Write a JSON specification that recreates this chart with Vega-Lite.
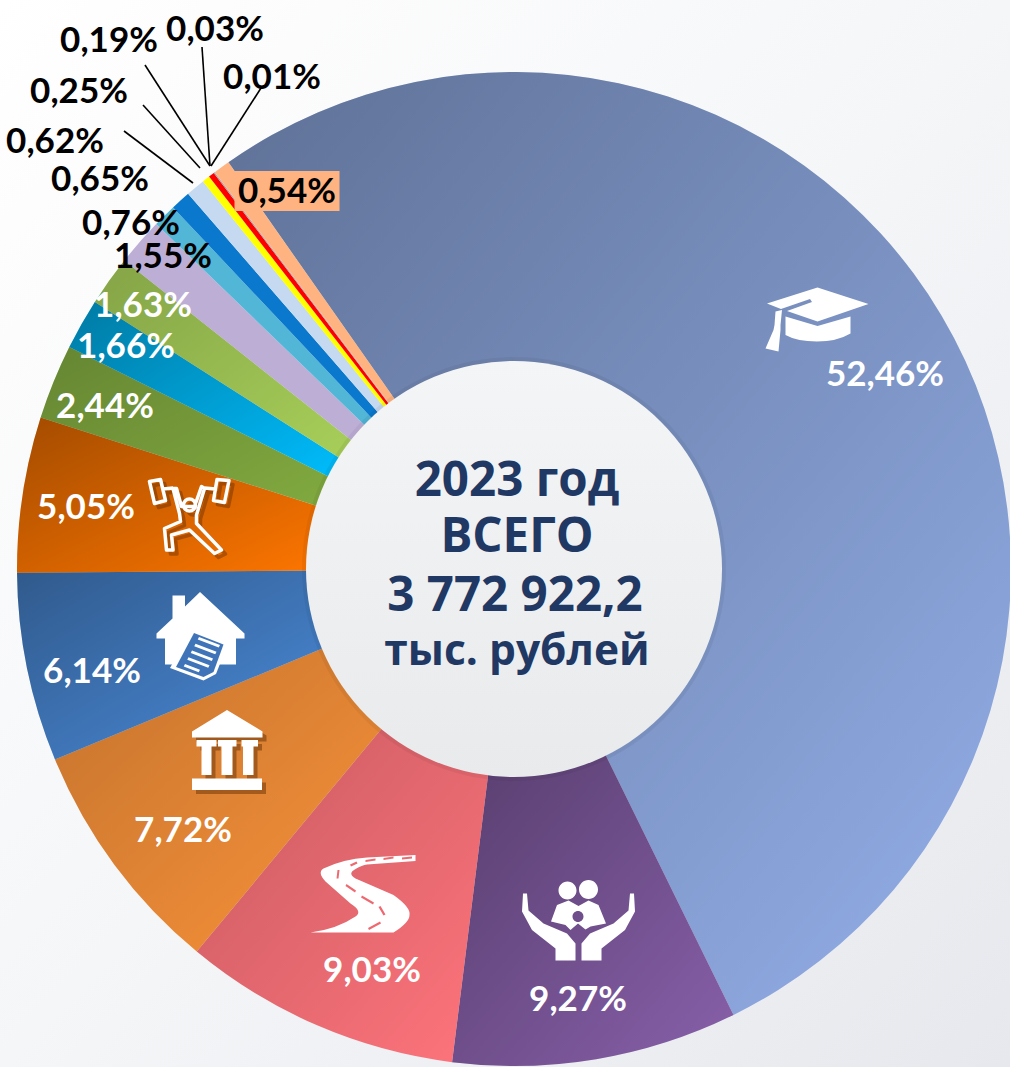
{"$schema":"https://vega.github.io/schema/vega-lite/v6.json","width":1010,"height":1067,"padding":0,"autosize":"none","background":"#f5f6f8","view":{"stroke":null,"fill":{"gradient":"linear","x1":0,"y1":0,"x2":1,"y2":1,"stops":[{"offset":0,"color":"#ffffff"},{"offset":0.5,"color":"#f5f6f8"},{"offset":1,"color":"#e6e8ed"}]}},
"datasets":{
"slices":[
{"key":0,"rank":1,"category":"a52","share":52.46},{"key":0,"rank":2,"category":"b9","share":9.27},{"key":0,"rank":3,"category":"c9","share":9.03},{"key":0,"rank":4,"category":"d7","share":7.72},{"key":0,"rank":5,"category":"e6","share":6.14},{"key":0,"rank":6,"category":"f5","share":5.05},{"key":0,"rank":7,"category":"g2","share":2.44},{"key":0,"rank":8,"category":"h1","share":1.66},{"key":0,"rank":9,"category":"i1","share":1.63},{"key":0,"rank":10,"category":"j1","share":1.55},{"key":0,"rank":11,"category":"k0","share":0.76},{"key":0,"rank":12,"category":"l0","share":0.65},{"key":0,"rank":13,"category":"m0","share":0.62},{"key":0,"rank":14,"category":"n0","share":0.25},{"key":0,"rank":15,"category":"o0","share":0.19},{"key":0,"rank":16,"category":"p0","share":0.03},{"key":0,"rank":17,"category":"q0","share":0.01},{"key":0,"rank":18,"category":"r0","share":0.54}],
"labels":[
{"key":1,"text":"52,46%","ink":"light"},{"key":2,"text":"9,27%","ink":"light"},{"key":3,"text":"9,03%","ink":"light"},{"key":4,"text":"7,72%","ink":"light"},{"key":5,"text":"6,14%","ink":"light"},{"key":6,"text":"5,05%","ink":"light"},{"key":7,"text":"2,44%","ink":"light"},{"key":8,"text":"1,66%","ink":"light"},{"key":9,"text":"1,63%","ink":"light"},{"key":10,"text":"1,55%","ink":"dark"},{"key":11,"text":"0,76%","ink":"dark"},{"key":12,"text":"0,65%","ink":"dark"},{"key":13,"text":"0,62%","ink":"dark"},{"key":14,"text":"0,25%","ink":"dark"},{"key":15,"text":"0,19%","ink":"dark"},{"key":16,"text":"0,03%","ink":"dark"},{"key":17,"text":"0,01%","ink":"dark"},{"key":18,"text":"0,54%","ink":"dark"}],
"centre":[{"key":19,"text":"2023 год","tier":"big"},{"key":20,"text":"ВСЕГО","tier":"big"},{"key":21,"text":"3 772 922,2","tier":"big"},{"key":22,"text":"тыс. рублей","tier":"small"}],
"icons":[{"key":23,"icon":"cap"},{"key":24,"icon":"family"},{"key":25,"icon":"road"},{"key":25,"icon":"dashes"},{"key":26,"icon":"bank"},{"key":27,"icon":"house"},{"key":27,"icon":"paper"},{"key":27,"icon":"sheet"},{"key":27,"icon":"lines"}],
"leaders":[{"key":30,"key2":31},{"key":32,"key2":33},{"key":34,"key2":35},{"key":36,"key2":37},{"key":38,"key2":39}]
},
"encoding":{
"x":{"field":"key","type":"quantitative","axis":null,"scale":{"nice":false,"zero":false,"domain":[0,1,2,3,4,5,6,7,8,9,10,11,12,13,14,15,16,17,18,19,20,21,22,23,24,25,26,27,28,29,30,31,32,33,34,35,36,37,38,39,40,41],"range":[514,885,578,372,183,92,86,105,126,143,163,131,100,55,79,109,215,272,287,517,517,515,517,817,578,362,227,200,188,188,261,211,202,210,145,210,143,200,124,193,231,192]}},
"y":{"field":"key","type":"quantitative","axis":null,"scale":{"nice":false,"zero":false,"domain":[0,1,2,3,4,5,6,7,8,9,10,11,12,13,14,15,16,17,18,19,20,21,22,23,24,25,26,27,28,29,30,31,32,33,34,35,36,37,38,39,40,41],"range":[569,375,1000,971,831,672,508,407,347,306,257,224,180,142,92,41,30,78,192,482,538,597,652,325,915,895,750,637,515,515,88,166,47,166,65,166,105,168,131,183,754,519]}}
},
"resolve":{"scale":{"color":"independent","shape":"independent"}},
"layer":[
{"data":{"name":"slices"},"transform":[{"stack":"share","sort":[{"field":"rank"}],"as":["s0","s1"]}],"mark":{"type":"arc","innerRadius":190,"outerRadius":497},
"encoding":{"theta":{"field":"s0","type":"quantitative","scale":{"domain":[0,100],"range":[-0.612,5.671]}},"theta2":{"field":"s1"},
"color":{"field":"category","type":"nominal","legend":null,"scale":{"domain":["a52","b9","c9","d7","e6","f5","g2","h1","i1","j1","k0","l0","m0","n0","o0","p0","q0","r0"],"range":["#94b0ea","#8860aa","#ff747c","#fa933a","#4b8cdb","#ff7600","#82ab40","#00bfff","#a9d15a","#bdaed6","#52b6d6","#0a78cc","#c5d9f1","#ffff00","#ff0000","#a0a0a0","#a0a0a0","#ffb380"]}}}},
{"data":{"name":"slices"},"transform":[{"stack":"share","sort":[{"field":"rank"}],"as":["s0","s1"]},{"filter":"datum.rank==1||datum.rank==2||datum.rank==5||datum.rank==6||datum.rank==8"}],"mark":{"type":"arc","innerRadius":190,"outerRadius":497,"fill":{"gradient":"linear","x1":0,"y1":0,"x2":1,"y2":1,"stops":[{"offset":0,"color":"rgba(0,0,0,0.36)"},{"offset":1,"color":"rgba(0,0,0,0)"}]}},
"encoding":{"theta":{"field":"s0","type":"quantitative","scale":{"domain":[0,100],"range":[-0.612,5.671]}},"theta2":{"field":"s1"}}},
{"data":{"name":"slices"},"transform":[{"stack":"share","sort":[{"field":"rank"}],"as":["s0","s1"]},{"filter":"datum.rank==3||datum.rank==4||datum.rank==7||datum.rank==9"}],"mark":{"type":"arc","innerRadius":190,"outerRadius":497,"fill":{"gradient":"linear","x1":0,"y1":0,"x2":1,"y2":1,"stops":[{"offset":0,"color":"rgba(0,0,0,0.22)"},{"offset":1,"color":"rgba(0,0,0,0)"}]}},
"encoding":{"theta":{"field":"s0","type":"quantitative","scale":{"domain":[0,100],"range":[-0.612,5.671]}},"theta2":{"field":"s1"}}},
{"data":{"values":[{"key":0}]},"mark":{"type":"arc","theta":0,"theta2":6.2832,"outerRadius":212,"fill":"#000000","fillOpacity":0.05},"encoding":{}},
{"data":{"values":[{"key":0}]},"mark":{"type":"arc","theta":0,"theta2":6.2832,"outerRadius":208,"fill":{"gradient":"linear","x1":0,"y1":0,"x2":0,"y2":1,"stops":[{"offset":0,"color":"#f4f5f6"},{"offset":1,"color":"#e8eaec"}]}},"encoding":{}},
{"data":{"name":"leaders"},"mark":{"type":"rule","color":"#000000","strokeWidth":1.6},"encoding":{"x2":{"field":"key2"},"y2":{"field":"key2"}}},
{"data":{"values":[{"key":18,"box":"halo"}]},"mark":{"type":"point","filled":true,"opacity":1,"strokeWidth":0,"size":10000,"color":"#ffb380"},"encoding":{"shape":{"field":"box","type":"nominal","legend":null,"scale":{"domain":["halo"],"range":["M-1.05,-0.42L1.05,-0.42L1.05,0.38L-1.05,0.38Z"]}}}},
{"data":{"name":"labels"},"transform":[{"filter":"datum.ink=='light'"}],"mark":{"type":"text","font":"Lato","fontWeight":"bold","fontSize":35,"align":"center","baseline":"middle","color":"#ffffff"},"encoding":{"text":{"field":"text"}}},
{"data":{"name":"labels"},"transform":[{"filter":"datum.ink=='dark'"}],"mark":{"type":"text","font":"Lato","fontWeight":"bold","fontSize":35,"align":"center","baseline":"middle","color":"#000000"},"encoding":{"text":{"field":"text"}}},
{"data":{"name":"centre"},"transform":[{"filter":"datum.tier=='big'"}],"mark":{"type":"text","font":"Open Sans","fontWeight":"bold","fontSize":47.5,"align":"center","baseline":"middle","color":"#1f3864"},"encoding":{"text":{"field":"text"}}},
{"data":{"name":"centre"},"transform":[{"filter":"datum.tier=='small'"}],"mark":{"type":"text","font":"Open Sans","fontWeight":"bold","fontSize":42.5,"align":"center","baseline":"middle","color":"#1f3864"},"encoding":{"text":{"field":"text"}}},
{"data":{"values":[{"key":40,"icon":"bank"}]},"mark":{"type":"point","filled":true,"opacity":1,"size":10000,"strokeWidth":0,"color":"#5a2800","fillOpacity":0.45},"encoding":{"shape":{"field":"icon","type":"nominal","legend":null,"scale":{"domain":["bank"],"range":["M0,-0.8L0.71,-0.37L0.71,-0.25L-0.7,-0.25L-0.7,-0.37ZM-0.61,-0.2L-0.21,-0.2L-0.21,-0.07L-0.31,-0.07L-0.31,0.5L-0.51,0.5L-0.51,-0.07L-0.61,-0.07ZM-0.18,-0.2L0.19,-0.2L0.19,-0.07L0.11,-0.07L0.11,0.5L-0.11,0.5L-0.11,-0.07L-0.18,-0.07ZM0.29,-0.2L0.62,-0.2L0.62,-0.07L0.53,-0.07L0.53,0.5L0.32,0.5L0.32,-0.07L0.29,-0.07ZM-0.7,0.57L0.7,0.57L0.7,0.8L-0.7,0.8Z"]}}}},
{"data":{"values":[{"key":41,"icon":"lifter"}]},"mark":{"type":"point","filled":false,"opacity":1,"size":10000,"color":"#5a2800","strokeOpacity":0.4,"strokeWidth":3.5,"strokeJoin":"round"},"encoding":{"shape":{"field":"icon","type":"nominal","legend":null,"scale":{"domain":["lifter"],"range":["M-0.77,-0.67L-0.55,-0.71L-0.45,-0.29L-0.67,-0.23ZM0.58,-0.71L0.82,-0.69L0.73,-0.25L0.51,-0.29ZM-0.5,-0.52L-0.3,-0.54M0.33,-0.54L0.55,-0.52M-0.3,-0.53L-0.17,-0.03L-0.15,0.13L-0.47,0.27L-0.43,0.7L-0.3,0.7L-0.33,0.4L0.03,0.3L0.53,0.77L0.67,0.7L0.17,0.17L0.17,0L0.33,-0.53L0.27,-0.57L0.13,-0.17L-0.13,-0.17L-0.23,-0.53ZM-0.09,-0.2A0.12,0.12,0,1,1,0.15,-0.2A0.12,0.12,0,1,1,-0.09,-0.2Z"]}}}},
{"data":{"name":"icons"},"mark":{"type":"point","filled":true,"opacity":1,"size":10000,"strokeWidth":0},"encoding":{
"color":{"field":"icon","type":"nominal","legend":null,"scale":{"domain":["cap","family","road","dashes","bank","house","paper","sheet","lines"],"range":["#ffffff","#ffffff","#ffffff","#f0686f","#ffffff","#ffffff","#ffffff","#3f74b8","#ffffff"]}},
"shape":{"field":"icon","type":"nominal","legend":null,"scale":{"domain":["cap","family","road","dashes","bank","house","paper","sheet","lines"],"range":[
"M0.01,-0.75L1.03,-0.42L0.01,-0.07L-0.6,-0.28L-0.1,-0.46L-0.14,-0.52L-0.72,-0.32L-1,-0.43ZM-0.63,-0.17L0.01,0.02L0.67,-0.17L0.67,0.17Q0.4,0.33,0,0.33Q-0.4,0.33,-0.63,0.2ZM-0.83,-0.27L-0.7,-0.3L-0.73,0L-0.73,0.1L-0.77,0.53L-1.03,0.47L-0.87,0.1L-0.85,0Z",
"M-0.39,-0.49A0.18,0.18,0,1,1,-0.03,-0.49A0.18,0.18,0,1,1,-0.39,-0.49ZM0.02,-0.51A0.19,0.19,0,1,1,0.4,-0.51A0.19,0.19,0,1,1,0.02,-0.51ZM-0.54,0.13L-0.42,-0.2L-0.19,-0.29L0.01,-0.18L0.21,-0.29L0.41,-0.2L0.56,0.17L0.25,0.23L0.15,0.29L0,0.17L-0.15,0.3L-0.25,0.2ZM-0.11,0.03A0.11,0.11,0,1,0,0.11,0.03A0.11,0.11,0,1,0,-0.11,0.03ZM-1.1,-0.43L-1.02,-0.43L-0.99,-0.09L-0.69,0.17L-0.22,0.37L-0.05,0.57L-0.05,0.91L-0.45,0.91L-0.45,0.67L-0.92,0.3L-1.12,-0.07ZM1.12,-0.43L1.04,-0.43L1.01,-0.09L0.71,0.17L0.24,0.37L0.07,0.57L0.07,0.91L0.47,0.91L0.47,0.67L0.94,0.3L1.14,-0.07Z",
"M1.07,-0.8L0.1,-0.75Q-0.37,-0.72,-0.77,-0.53Q-0.9,-0.45,-0.73,-0.27L-0.23,0.17Q0.02,0.33,-0.13,0.43Q-0.5,0.68,-1.03,0.75L0.63,0.75Q0.95,0.55,0.95,0.4Q0.98,0.25,0.63,0L-0.13,-0.33Q-0.3,-0.43,-0.13,-0.52Q0,-0.6,0.1,-0.61L1.07,-0.68Z",
"M-0.49,-0.5L-0.45,-0.5L-0.47,-0.33L-0.51,-0.33ZM-0.31,-0.22L-0.12,-0.09L-0.14,-0.05L-0.33,-0.18ZM0,0.01L0.24,0.15L0.22,0.19L-0.02,0.05ZM0.37,0.22L0.47,0.39L0.43,0.41L0.33,0.24ZM0.36,0.53L0.38,0.57L0.14,0.7L0.12,0.66ZM0.07,-0.7L0.27,-0.73L0.27,-0.69L0.07,-0.66ZM0.43,-0.74L0.63,-0.77L0.63,-0.73L0.43,-0.7ZM0.8,-0.75L1,-0.77L1,-0.73L0.8,-0.71ZM-0.24,-0.61L-0.11,-0.67L-0.09,-0.63L-0.22,-0.57Z",
"M0,-0.8L0.71,-0.37L0.71,-0.25L-0.7,-0.25L-0.7,-0.37ZM-0.61,-0.2L-0.21,-0.2L-0.21,-0.07L-0.31,-0.07L-0.31,0.5L-0.51,0.5L-0.51,-0.07L-0.61,-0.07ZM-0.18,-0.2L0.19,-0.2L0.19,-0.07L0.11,-0.07L0.11,0.5L-0.11,0.5L-0.11,-0.07L-0.18,-0.07ZM0.29,-0.2L0.62,-0.2L0.62,-0.07L0.53,-0.07L0.53,0.5L0.32,0.5L0.32,-0.07L0.29,-0.07ZM-0.7,0.57L0.7,0.57L0.7,0.8L-0.7,0.8Z",
"M0,-0.9L0.89,-0.07L0.89,0.03L0.72,0.03L0.72,0.55L-0.7,0.55L-0.7,0.03L-0.87,0.03L-0.87,-0.07L-0.55,-0.37L-0.55,-0.83L-0.3,-0.83L-0.3,-0.61Z",
"M-0.17,-0.17L0.57,0.1L0.32,0.74L0.07,0.87L-0.6,0.62Z",
"M-0.12,-0.08L0.47,0.15L0.27,0.7L0.07,0.8L-0.48,0.6Z",
"M-0.02,0L0.4,0.16L0.375,0.21L-0.045,0.05ZM-0.09,0.135L0.33,0.295L0.305,0.345L-0.115,0.185ZM-0.16,0.27L0.26,0.43L0.235,0.48L-0.185,0.32ZM-0.23,0.405L0.19,0.565L0.165,0.615L-0.255,0.455ZM-0.3,0.54L0,0.655L-0.025,0.705L-0.325,0.59Z"
]}}}},
{"data":{"values":[{"key":28,"icon":"lifter"}]},"mark":{"type":"point","filled":false,"opacity":1,"size":10000,"color":"#ffffff","strokeWidth":3.5,"strokeJoin":"round"},"encoding":{
"shape":{"field":"icon","type":"nominal","legend":null,"scale":{"domain":["lifter"],"range":["M-0.77,-0.67L-0.55,-0.71L-0.45,-0.29L-0.67,-0.23ZM0.58,-0.71L0.82,-0.69L0.73,-0.25L0.51,-0.29ZM-0.5,-0.52L-0.3,-0.54M0.33,-0.54L0.55,-0.52M-0.3,-0.53L-0.17,-0.03L-0.15,0.13L-0.47,0.27L-0.43,0.7L-0.3,0.7L-0.33,0.4L0.03,0.3L0.53,0.77L0.67,0.7L0.17,0.17L0.17,0L0.33,-0.53L0.27,-0.57L0.13,-0.17L-0.13,-0.17L-0.23,-0.53ZM-0.09,-0.2A0.12,0.12,0,1,1,0.15,-0.2A0.12,0.12,0,1,1,-0.09,-0.2Z"]}}}}
]}
